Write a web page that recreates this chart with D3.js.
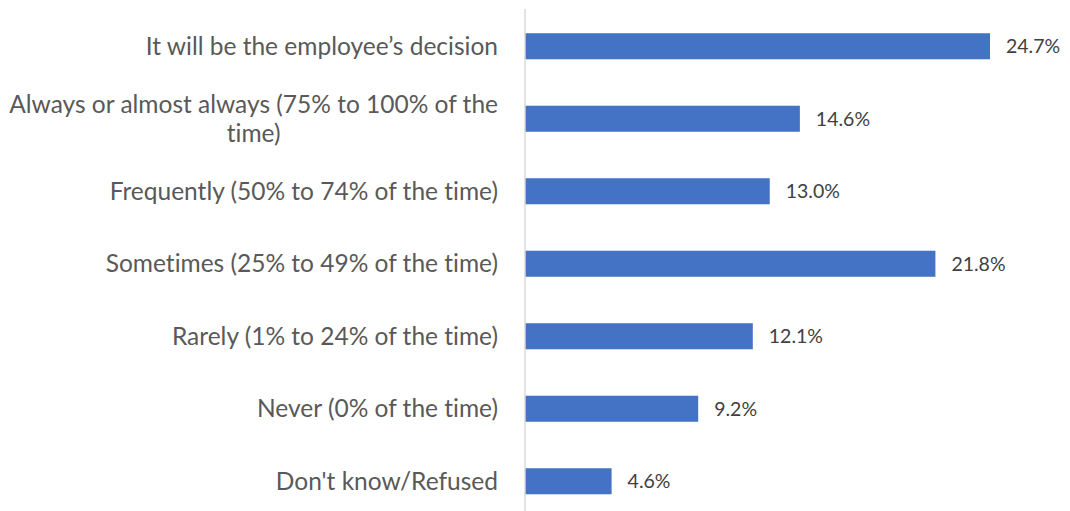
<html>
<script src="https://d3js.org/d3.v7.min.js"></script>
<style>
    body { margin: 0; background: #fff; }
    .cat { font-family: Lato, "Open Sans", sans-serif; fill: #595959; font-variant-ligatures: none; }
    .val { font-family: Lato, "Open Sans", sans-serif; fill: #404040; }
</style>
<body>
<svg id="chart"></svg>
<script>
    var categories = [
        "It will be the employee\u2019s decision",
        "Always or almost always (75% to 100% of the time)",
        "Frequently (50% to 74% of the time)",
        "Sometimes (25% to 49% of the time)",
        "Rarely (1% to 24% of the time)",
        "Never (0% of the time)",
        "Don't know/Refused"
    ];
    var values = [24.7, 14.6, 13.0, 21.8, 12.1, 9.2, 4.6];
    // label lines (the long one wraps in the original)
    var labelLines = [
        ["It will be the employee\u2019s decision"],
        ["Always or almost always (75% to 100% of the", "time)"],
        ["Frequently (50% to 74% of the time)"],
        ["Sometimes (25% to 49% of the time)"],
        ["Rarely (1% to 24% of the time)"],
        ["Never (0% of the time)"],
        ["Don't know/Refused"]
    ];

    var width = 1070, height = 511;
    var axisX = 525;

    var svg = d3.select("#chart")
        .attr("width", width)
        .attr("height", height);

    var x = d3.scaleLinear()
        .domain([0, 24.7])
        .range([axisX, 990]);

    var y = d3.scaleBand()
        .domain(categories)
        .range([10, 517.5])
        .paddingInner(0.641)
        .paddingOuter(0.3205);

    // bars
    svg.append("g")
        .selectAll("rect")
        .data(values)
        .enter()
        .append("rect")
        .attr("x", x(0))
        .attr("y", function (d, i) { return y(categories[i]); })
        .attr("width", function (d) { return x(d) - x(0); })
        .attr("height", y.bandwidth())
        .attr("fill", "#4472C4");

    // axis line
    svg.append("line")
        .attr("x1", axisX).attr("x2", axisX)
        .attr("y1", 9).attr("y2", height)
        .attr("stroke", "#d9d9d9")
        .attr("stroke-width", 1.5);

    // value labels
    svg.append("g")
        .selectAll("text")
        .data(values)
        .enter()
        .append("text")
        .attr("class", "val")
        .attr("x", function (d) { return x(d) + 16; })
        .attr("y", function (d, i) { return y(categories[i]) + y.bandwidth() / 2; })
        .attr("dy", "0.35em")
        .style("font-size", "19.5px")
        .text(function (d) { return d.toFixed(1) + "%"; });

    // category labels
    var lineH = 29;
    var labels = svg.append("g")
        .selectAll("g")
        .data(labelLines)
        .enter()
        .append("g")
        .attr("transform", function (d, i) {
            return "translate(498," + (y(categories[i]) + y.bandwidth() / 2) + ")";
        });

    labels.each(function (lines) {
        var g = d3.select(this);
        var t = g.append("text")
            .attr("class", "cat")
            .style("font-size", "24.5px");
        var off = -(lines.length - 1) * lineH / 2;
        lines.forEach(function (l, j) {
            t.append("tspan")
                .attr("x", 0)
                .attr("y", off + j * lineH)
                .attr("dy", "0.35em")
                .text(l);
        });
        // wrapped lines are centred under the widest line, box right-aligned
        var widths = [];
        t.selectAll("tspan").each(function () { widths.push(this.getComputedTextLength()); });
        var maxW = d3.max(widths);
        t.selectAll("tspan")
            .attr("text-anchor", "middle")
            .attr("x", -maxW / 2);
    });
</script>
</body>
</html>
